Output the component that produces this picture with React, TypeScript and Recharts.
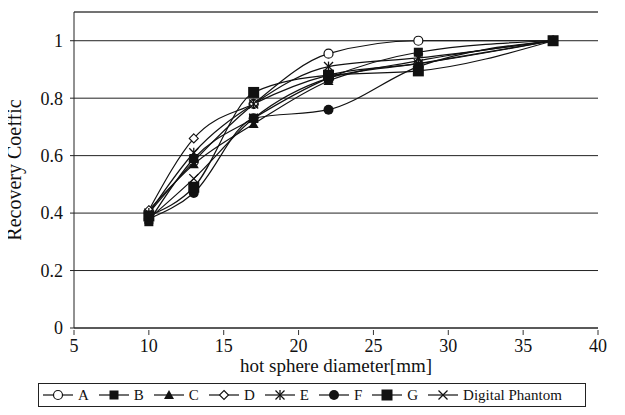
import { LineChart, Line, XAxis, YAxis, CartesianGrid, ReferenceLine } from 'recharts';

const diameters = [10, 13, 17, 22, 28, 37];
const seriesA = [0.4, 0.58, 0.78, 0.955, 1.0, 1.0];
const seriesB = [0.37, 0.59, 0.73, 0.87, 0.96, 1.0];
const seriesC = [0.41, 0.57, 0.71, 0.86, 0.93, 1.0];
const seriesD = [0.41, 0.66, 0.78, 0.88, 0.92, 1.0];
const seriesE = [0.4, 0.61, 0.78, 0.91, 0.94, 1.0];
const seriesF = [0.38, 0.47, 0.73, 0.76, 0.91, 1.0];
const seriesG = [0.39, 0.49, 0.82, 0.88, 0.895, 1.0];
const seriesPhantom = [0.38, 0.52, 0.73, 0.87, 0.92, 1.0];
const xTicks = [5, 10, 15, 20, 25, 30, 35, 40];
const yTicks = [0, 0.2, 0.4, 0.6, 0.8, 1];

const data = diameters.map((d, i) => ({
  d,
  A: seriesA[i],
  B: seriesB[i],
  C: seriesC[i],
  D: seriesD[i],
  E: seriesE[i],
  F: seriesF[i],
  G: seriesG[i],
  P: seriesPhantom[i],
}));

type Shape = 'openCircle' | 'square' | 'triangle' | 'diamond' | 'asterisk' | 'circle' | 'bigSquare' | 'cross';

const series: { key: string; name: string; shape: Shape }[] = [
  { key: 'A', name: 'A', shape: 'openCircle' },
  { key: 'B', name: 'B', shape: 'square' },
  { key: 'C', name: 'C', shape: 'triangle' },
  { key: 'D', name: 'D', shape: 'diamond' },
  { key: 'E', name: 'E', shape: 'asterisk' },
  { key: 'F', name: 'F', shape: 'circle' },
  { key: 'G', name: 'G', shape: 'bigSquare' },
  { key: 'P', name: 'Digital Phantom', shape: 'cross' },
];

const FONT = 'Liberation Serif, Times New Roman, Times, DejaVu Serif, serif';

function Marker({ shape, cx, cy }: { shape: Shape; cx: number; cy: number }) {
  const k = '#111';
  switch (shape) {
    case 'openCircle':
      return <circle cx={cx} cy={cy} r={4.5} fill="#fff" stroke={k} strokeWidth={1.2} />;
    case 'square':
      return <rect x={cx - 4.5} y={cy - 4.5} width={9} height={9} fill={k} />;
    case 'bigSquare':
      return <rect x={cx - 5.5} y={cy - 5.5} width={11} height={11} fill={k} />;
    case 'triangle':
      return <polygon points={`${cx},${cy - 5} ${cx + 5},${cy + 4} ${cx - 5},${cy + 4}`} fill={k} />;
    case 'diamond':
      return (
        <polygon
          points={`${cx},${cy - 4.5} ${cx + 4.5},${cy} ${cx},${cy + 4.5} ${cx - 4.5},${cy}`}
          fill="#fff"
          stroke={k}
          strokeWidth={1.1}
        />
      );
    case 'asterisk':
      return (
        <g stroke={k} strokeWidth={1.3}>
          <line x1={cx - 4.5} y1={cy - 4.5} x2={cx + 4.5} y2={cy + 4.5} />
          <line x1={cx - 4.5} y1={cy + 4.5} x2={cx + 4.5} y2={cy - 4.5} />
          <line x1={cx} y1={cy - 5} x2={cx} y2={cy + 5} />
        </g>
      );
    case 'circle':
      return <circle cx={cx} cy={cy} r={5} fill={k} />;
    case 'cross':
      return (
        <g stroke={k} strokeWidth={1.3}>
          <line x1={cx - 4.5} y1={cy - 4.5} x2={cx + 4.5} y2={cy + 4.5} />
          <line x1={cx - 4.5} y1={cy + 4.5} x2={cx + 4.5} y2={cy - 4.5} />
        </g>
      );
  }
  return null;
}

const makeDot = (shape: Shape) => (props: any) => {
  const { cx, cy, index } = props;
  if (cx == null || cy == null) return <g key={index} />;
  return (
    <g key={`${shape}-${index}`}>
      <Marker shape={shape} cx={cx} cy={cy} />
    </g>
  );
};

const XTick = (props: any) => {
  const { x, y, payload } = props;
  return (
    <g>
      <line x1={x} y1={y - 6} x2={x} y2={y - 1} stroke="#333" strokeWidth={1} />
      <text x={x} y={y + 16} textAnchor="middle" fontFamily={FONT} fontSize={18} fill="#111">
        {payload.value}
      </text>
    </g>
  );
};

function LegendBox() {
  return (
    <div
      style={{
        position: 'absolute',
        left: 38,
        top: 383,
        width: 548,
        height: 24,
        border: '1px solid #222',
        boxSizing: 'border-box',
        display: 'flex',
        alignItems: 'center',
        justifyContent: 'flex-start',
        whiteSpace: 'nowrap',
        paddingLeft: 4,
        fontFamily: FONT,
        fontSize: 15,
        color: '#111',
      }}
    >
      {series.map((s) => (
        <span key={s.key} style={{ display: 'flex', alignItems: 'center', marginRight: 10, flexShrink: 0 }}>
          <svg width={30} height={14}>
            <line x1={0} y1={7} x2={30} y2={7} stroke="#111" strokeWidth={1.2} />
            <Marker shape={s.shape} cx={15} cy={7} />
          </svg>
          <span style={{ marginLeft: 5 }}>{s.name}</span>
        </span>
      ))}
    </div>
  );
}

export default function App() {
  return (
    <div style={{ position: 'relative', width: 625, height: 415, margin: -8, background: '#fff' }}>
      <LineChart width={625} height={415} data={data} margin={{ top: 12, right: 27, bottom: 42, left: 0 }}>
        <CartesianGrid vertical={false} stroke="#222" strokeWidth={1} />
        <ReferenceLine y={1.1} stroke="#555" strokeWidth={1} />
        <XAxis
          dataKey="d"
          type="number"
          domain={[5, 40]}
          ticks={xTicks}
          height={45}
          stroke="#222"
          tickLine={false}
          tick={<XTick />}
          label={{
            value: 'hot sphere diameter[mm]',
            position: 'insideBottom',
            offset: 1,
            style: { fontFamily: FONT, fontSize: 19, fill: '#111' },
          }}
        />
        <YAxis
          type="number"
          domain={[0, 1.1]}
          ticks={yTicks}
          width={74}
          stroke="#222"
          tickSize={4}
          tickMargin={7}
          tick={{ fontFamily: FONT, fontSize: 18, fill: '#111' }}
          label={{
            value: 'Recovery Coeffic',
            angle: -90,
            position: 'insideLeft',
            offset: 14,
            style: { fontFamily: FONT, fontSize: 20, fill: '#111', textAnchor: 'middle' },
          }}
        />
        {series.map((s) => (
          <Line
            key={s.key}
            dataKey={s.key}
            name={s.name}
            type="monotone"
            stroke="#111"
            strokeWidth={1.2}
            dot={makeDot(s.shape)}
            activeDot={false}
            isAnimationActive={false}
          />
        ))}
      </LineChart>
      <LegendBox />
    </div>
  );
}
